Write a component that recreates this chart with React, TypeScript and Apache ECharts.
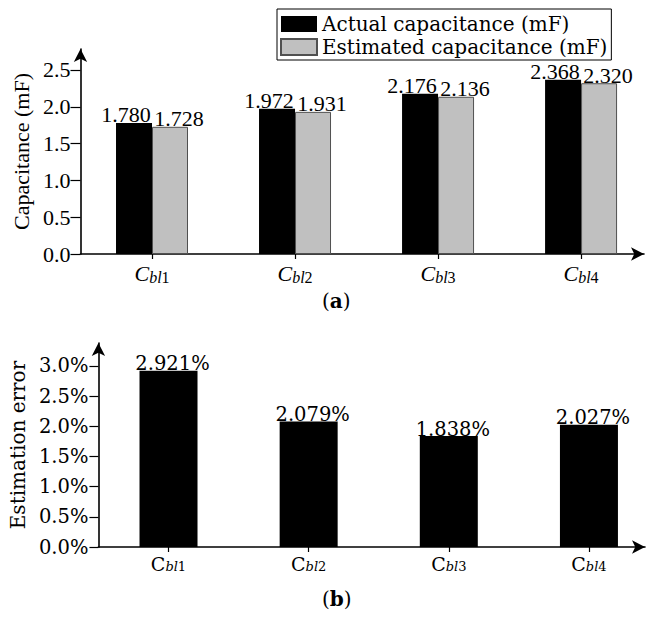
import React, { useEffect, useRef } from "react";
import * as echarts from "echarts";

// ---- data ----
const categoryMain = "C";
const categorySubs = ["bl", "bl", "bl", "bl"];
const categoryIdx = ["1", "2", "3", "4"];
const actualCap = [1.78, 1.972, 2.176, 2.368];
const estimatedCap = [1.728, 1.931, 2.136, 2.32];
const estimationError = [2.921, 2.079, 1.838, 2.027];
const capTicks = [0, 0.5, 1.0, 1.5, 2.0, 2.5];
const errTicks = [0, 0.5, 1.0, 1.5, 2.0, 2.5, 3.0];
const seriesNames = ["Actual capacitance (mF)", "Estimated capacitance (mF)"];
const capAxisTitle = "Capacitance (mF)";
const errAxisTitle = "Estimation error";

const TIMES = "Liberation Serif";
const PAL = "DejaVu Serif";

export default function App() {
  const ref = useRef<HTMLDivElement>(null);
  useEffect(() => {
    if (!ref.current) return;
    const chart = echarts.init(ref.current, null, { renderer: "svg" });
    const idx = [0, 1, 2, 3];
    const axisLineStyle = { color: "#000", width: 1.6 };
    const arrow = { symbol: ["none", "arrow"], symbolSize: [10, 13] };

    const option: any = {
      animation: false,
      backgroundColor: "#fff",
      legend: {
        orient: "vertical",
        left: 277,
        top: 9,
        padding: [4, 4, 2, 3],
        itemGap: 1,
        itemWidth: 36,
        itemHeight: 16,
        borderColor: "#000",
        borderWidth: 1,
        borderRadius: 0,
        textStyle: { fontFamily: PAL, fontSize: 20, color: "#000", lineHeight: 22 },
        data: seriesNames.map((n) => ({ name: n, icon: "rect" })),
      },
      grid: [
        { left: 80.5, top: 49, height: 205, width: 563.5 },
        { left: 92.5, top: 343, height: 204, width: 552.5 },
      ],
      xAxis: [
        {
          gridIndex: 0,
          type: "value",
          min: -0.5,
          max: 3.44,
          splitLine: { show: false },
          axisLine: { show: true, onZero: false, lineStyle: axisLineStyle, ...arrow },
          axisTick: { show: true, length: 5, customValues: idx, lineStyle: { color: "#000", width: 1.2 } },
          axisLabel: {
            customValues: idx,
            margin: 7,
            formatter: (v: number) =>
              `{c|${categoryMain}}{s|${categorySubs[v]}}{n|${categoryIdx[v]}}`,
            rich: {
              c: { fontFamily: TIMES, fontStyle: "italic", fontSize: 22, color: "#000" },
              s: { fontFamily: TIMES, fontStyle: "italic", fontSize: 16, color: "#000", padding: [8, 0, 0, 0] },
              n: { fontFamily: TIMES, fontSize: 16, color: "#000", padding: [8, 0, 0, 0] },
            },
          },
        },
        {
          gridIndex: 1,
          type: "value",
          min: -0.5,
          max: 3.4,
          splitLine: { show: false },
          axisLine: { show: true, onZero: false, lineStyle: axisLineStyle, ...arrow },
          axisTick: { show: true, length: 5, customValues: idx, lineStyle: { color: "#000", width: 1.2 } },
          axisLabel: {
            customValues: idx,
            margin: 7,
            formatter: (v: number) =>
              `{c|${categoryMain}}{s|${categorySubs[v]}}{n|${categoryIdx[v]}}`,
            rich: {
              c: { fontFamily: PAL, fontSize: 19, color: "#000" },
              s: { fontFamily: PAL, fontStyle: "italic", fontSize: 13, color: "#000", padding: [6, 0, 0, 0] },
              n: { fontFamily: PAL, fontSize: 13, color: "#000", padding: [6, 0, 0, 0] },
            },
          },
        },
      ],
      yAxis: [
        {
          gridIndex: 0,
          type: "value",
          min: 0,
          max: 2.785,
          splitLine: { show: false },
          axisLine: { show: true, onZero: false, lineStyle: axisLineStyle, ...arrow },
          axisTick: { show: true, length: 10, customValues: capTicks, lineStyle: { color: "#000", width: 1.2 } },
          axisLabel: {
            customValues: capTicks,
            margin: 10,
            fontFamily: TIMES,
            fontSize: 22,
            color: "#000",
            formatter: (v: number) => v.toFixed(1),
          },
          name: capAxisTitle,
          nameLocation: "middle",
          nameRotate: 90,
          nameGap: 36,
          nameTextStyle: { fontFamily: TIMES, fontSize: 22, color: "#000" },
        },
        {
          gridIndex: 1,
          type: "value",
          min: 0,
          max: 3.38,
          splitLine: { show: false },
          axisLine: { show: true, onZero: false, lineStyle: axisLineStyle, ...arrow },
          axisTick: { show: true, length: 9, customValues: errTicks, lineStyle: { color: "#000", width: 1.2 } },
          axisLabel: {
            customValues: errTicks,
            margin: 10,
            fontFamily: PAL,
            fontSize: 19.5,
            color: "#000",
            formatter: (v: number) => v.toFixed(1) + "%",
          },
          name: errAxisTitle,
          nameLocation: "middle",
          nameRotate: 90,
          nameGap: 56,
          nameTextStyle: { fontFamily: PAL, fontSize: 20, color: "#000" },
        },
      ],
      series: [
        {
          name: seriesNames[0],
          type: "bar",
          xAxisIndex: 0,
          yAxisIndex: 0,
          barWidth: 36,
          barGap: "0%",
          data: actualCap.map((v, i) => [i, v]),
          itemStyle: { color: "#000" },
          label: {
            show: true,
            position: "top",
            distance: -3,
            offset: [-8, 0],
            fontFamily: TIMES,
            fontSize: 22,
            color: "#000",
            formatter: (p: any) => p.value[1].toFixed(3),
          },
        },
        {
          name: seriesNames[1],
          type: "bar",
          xAxisIndex: 0,
          yAxisIndex: 0,
          barWidth: 36,
          barGap: "0%",
          data: estimatedCap.map((v, i) => [i, v]),
          itemStyle: { color: "#c0c0c0", borderColor: "#505050", borderWidth: 1 },
          label: {
            show: true,
            position: "top",
            distance: -3,
            offset: [9, 0],
            fontFamily: TIMES,
            fontSize: 22,
            color: "#000",
            formatter: (p: any) => p.value[1].toFixed(3),
          },
        },
        {
          name: "Estimation error",
          type: "bar",
          xAxisIndex: 1,
          yAxisIndex: 1,
          barWidth: 58,
          data: estimationError.map((v, i) => [i, v]),
          itemStyle: { color: "#000" },
          label: {
            show: true,
            position: "top",
            distance: -3,
            offset: [4, 0],
            fontFamily: PAL,
            fontSize: 19.5,
            color: "#000",
            formatter: (p: any) => p.value[1].toFixed(3) + "%",
          },
        },
      ],
      graphic: [
        {
          type: "text",
          left: 322,
          top: 291,
          style: {
            text: "{p|(}{b|a}{p|)}",
            rich: {
              p: { fontFamily: PAL, fontSize: 20, fill: "#000", color: "#000" },
              b: { fontFamily: PAL, fontSize: 20, fontWeight: "bold", fill: "#000", color: "#000" },
            },
          },
        },
        {
          type: "text",
          left: 322,
          top: 589,
          style: {
            text: "{p|(}{b|b}{p|)}",
            rich: {
              p: { fontFamily: PAL, fontSize: 20, fill: "#000", color: "#000" },
              b: { fontFamily: PAL, fontSize: 20, fontWeight: "bold", fill: "#000", color: "#000" },
            },
          },
        },
      ],
    };
    chart.setOption(option);
    return () => chart.dispose();
  }, []);
  return (
    <div
      ref={ref}
      style={{ position: "fixed", left: 0, top: 0, width: 652, height: 619, background: "#fff" }}
    />
  );
}
